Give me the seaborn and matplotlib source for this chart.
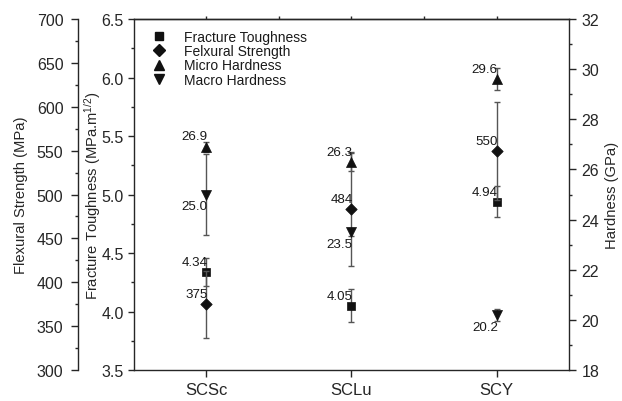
import numpy as np
import seaborn as sns
import matplotlib.pyplot as plt
from matplotlib.ticker import MultipleLocator
from matplotlib.lines import Line2D

# data
samples = ["SCSc", "SCLu", "SCY"]
toughness = [4.34, 4.05, 4.94]          # MPa.m^1/2
toughness_err = [0.12, 0.14, 0.135]
flexural = [375, 484, 550]              # MPa
flexural_err = [38, 65, 56]
micro_hard = [26.9, 26.3, 29.6]         # GPa
micro_err = [0.2, 0.35, 0.43]
macro_hard = [25.0, 23.5, 20.2]         # GPa
macro_err = [1.6, 0.15, 0.25]

sns.set_style("ticks")
plt.rcParams['font.family'] = ['Liberation Sans', 'DejaVu Sans']
plt.rcParams['mathtext.fontset'] = 'custom'
plt.rcParams['mathtext.rm'] = 'Liberation Sans'
plt.rcParams['mathtext.it'] = 'Liberation Sans'
plt.rcParams['axes.linewidth'] = 1.0
plt.rcParams['text.color'] = '#1a1a1a'

x = np.arange(len(samples))
fig, ax = plt.subplots(figsize=(6.22, 4.02), dpi=100)
fig.subplots_adjust(left=0.2154, right=0.9148, top=0.9502, bottom=0.0771)
ax_f = ax.twinx()
ax_h = ax.twinx()

ebar = dict(fmt='none', ecolor='#555555', elinewidth=1.0, capsize=2.4, capthick=1.0, zorder=1)

# fracture toughness (main left axis)
ax.errorbar(x, toughness, yerr=toughness_err, **ebar)
sns.scatterplot(x=x, y=toughness, marker='s', s=30, color='#111111', edgecolor='#111111',
                linewidth=0.5, ax=ax, legend=False, zorder=3)
# flexural strength (outer left axis)
ax_f.errorbar(x, flexural, yerr=flexural_err, **ebar)
sns.scatterplot(x=x, y=flexural, marker='D', s=34, color='#111111', edgecolor='#111111',
                linewidth=0.5, ax=ax_f, legend=False, zorder=3)
# hardness (right axis)
ax_h.errorbar(x, micro_hard, yerr=micro_err, **ebar)
ax_h.errorbar(x, macro_hard, yerr=macro_err, **ebar)
sns.scatterplot(x=x, y=micro_hard, marker='^', s=52, color='#111111', edgecolor='#111111',
                linewidth=0.5, ax=ax_h, legend=False, zorder=3)
sns.scatterplot(x=x, y=macro_hard, marker='v', s=52, color='#111111', edgecolor='#111111',
                linewidth=0.5, ax=ax_h, legend=False, zorder=3)

# value labels
lab = dict(textcoords='offset points', ha='right', va='center', fontsize=9.6, color='#1a1a1a')
for i in range(len(samples)):
    ax.annotate(f"{toughness[i]:.2f}", (x[i], toughness[i]), xytext=(1, 7), **lab)
    ax_f.annotate(f"{flexural[i]:d}", (x[i], flexural[i]), xytext=(1, 7), **lab)
    ax_h.annotate(f"{micro_hard[i]:.1f}", (x[i], micro_hard[i]), xytext=(1, 7.5), **lab)
    ax_h.annotate(f"{macro_hard[i]:.1f}", (x[i], macro_hard[i]), xytext=(1, -8.5), **lab)

# axes ranges and ticks
ax.set_xlim(-0.5, 2.5)
ax.set_xticks(x)
ax.set_xticklabels(samples, fontsize=12)
ax.set_xlabel("")
ax.set_ylim(3.5, 6.5)
ax.yaxis.set_major_locator(MultipleLocator(0.5))
ax.yaxis.set_minor_locator(MultipleLocator(0.25))
ax.yaxis.set_major_formatter(lambda v, p: f"{v:.1f}")
ax.tick_params(axis='y', which='major', direction='out', length=4.5, width=1, pad=3, labelsize=11.5)
ax.tick_params(axis='y', which='minor', direction='out', length=2.5, width=1)
ax.tick_params(axis='x', which='major', direction='out', length=5, width=1, pad=3.5)
ax.spines['right'].set_visible(False)
ax.set_ylabel("Fracture Toughness (MPa.m$^{1/2}$)", fontsize=10.6, labelpad=-1.5)

top = ax.secondary_xaxis('top')
top.set_xticks([0, 0.5, 1, 1.5, 2])
top.tick_params(direction='out', length=2, width=1, labeltop=False)

ax_f.set_ylim(300, 700)
ax_f.yaxis.set_major_locator(MultipleLocator(50))
ax_f.yaxis.set_minor_locator(MultipleLocator(25))
ax_f.yaxis.tick_left()
ax_f.yaxis.set_label_position('left')
ax_f.spines['left'].set_position(('outward', 40.3))   # 56 px
for s in ['right', 'top', 'bottom']:
    ax_f.spines[s].set_visible(False)
ax_f.tick_params(axis='y', which='major', direction='out', length=5, width=1, pad=5.5, labelsize=11.5)
ax_f.tick_params(axis='y', which='minor', direction='out', length=2.5, width=1)
ax_f.set_ylabel("Flexural Strength (MPa)", fontsize=10.6, labelpad=6)

ax_h.set_ylim(18, 32)
ax_h.yaxis.set_major_locator(MultipleLocator(2))
ax_h.yaxis.set_minor_locator(MultipleLocator(1))
for s in ['left', 'top', 'bottom']:
    ax_h.spines[s].set_visible(False)
ax_h.tick_params(axis='y', which='major', direction='out', length=5, width=1, pad=4, labelsize=11.5)
ax_h.tick_params(axis='y', which='minor', direction='out', length=2.5, width=1)
ax_h.set_ylabel("Hardness (GPa)", fontsize=10.6, labelpad=4)

# legend
handles = [
    Line2D([], [], marker='s', color='#111111', linestyle='none', markersize=5.5),
    Line2D([], [], marker='D', color='#111111', linestyle='none', markersize=5.8),
    Line2D([], [], marker='^', color='#111111', linestyle='none', markersize=7.2),
    Line2D([], [], marker='v', color='#111111', linestyle='none', markersize=7.2),
]
names = ["Fracture Toughness", "Felxural Strength", "Micro Hardness", "Macro Hardness"]
ax_h.legend(handles, names, loc='upper left', bbox_to_anchor=(0.041, 0.969), frameon=False,
            fontsize=10, handlelength=1.0, handletextpad=1.3, labelspacing=0.02,
            borderpad=0, borderaxespad=0)

plt.savefig("out.png", dpi=100)
